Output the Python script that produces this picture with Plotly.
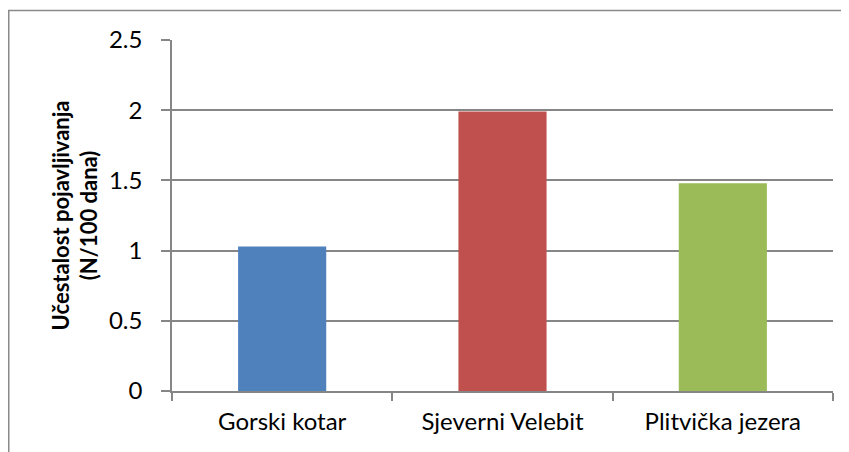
import plotly.graph_objects as go

# data
regions = ["Gorski kotar", "Sjeverni Velebit", "Plitvička jezera"]
frequency = [1.03, 1.99, 1.48]
bar_colors = ["#4F81BD", "#C0504D", "#9BBB59"]
y_ticks = [0, 0.5, 1, 1.5, 2, 2.5]

# the page body adds an 8px offset, so margins are shifted to compensate
W, H = 849, 452
ml, mr, mt, mb = 164, 24, 32, 69
pw, ph = W - ml - mr, H - mt - mb

axis_grey = "#868686"
font = "Lato, 'Open Sans', sans-serif"

fig = go.Figure(
    go.Bar(
        x=regions,
        y=frequency,
        marker=dict(color=bar_colors, line=dict(width=0)),
        width=0.4,
    )
)

fig.update_layout(
    width=W,
    height=H,
    margin=dict(l=ml, r=mr, t=mt, b=mb, pad=0),
    paper_bgcolor="white",
    plot_bgcolor="white",
    showlegend=False,
    font=dict(family=font, size=24, color="black"),
    xaxis=dict(
        showline=True,
        linecolor=axis_grey,
        linewidth=1.5,
        ticks="outside",
        tickson="boundaries",
        ticklen=8,
        tickcolor=axis_grey,
        tickwidth=1.5,
        showgrid=False,
        tickfont=dict(size=24),
        ticklabelstandoff=8,
        range=[-0.5, 2.5],
    ),
    yaxis=dict(
        range=[0, 2.5],
        tickvals=y_ticks,
        ticktext=[f"{v:g}" for v in y_ticks],
        showline=True,
        linecolor=axis_grey,
        linewidth=1.5,
        ticks="outside",
        ticklen=9,
        tickcolor=axis_grey,
        tickwidth=1.5,
        showgrid=True,
        gridcolor=axis_grey,
        gridwidth=1.5,
        zeroline=False,
        tickfont=dict(size=24),
        ticklabelstandoff=14,
        title=dict(
            text="<b>Učestalost pojavljivanja<br>(N/100 dana)</b>",
            font=dict(size=22),
            standoff=5,
        ),
    ),
)

# outer chart border (only left and top edges are inside the picture)
fig.add_shape(
    type="rect",
    xref="paper",
    yref="paper",
    x0=(0.75 - ml) / pw,
    x1=(W + 20 - ml) / pw,
    y0=-(mb + 20) / ph,
    y1=(H - 2.5 - mb) / ph,
    line=dict(color="#8a8a8a", width=1.5),
    fillcolor="rgba(0,0,0,0)",
    layer="above",
)

fig.write_html("out.html")
